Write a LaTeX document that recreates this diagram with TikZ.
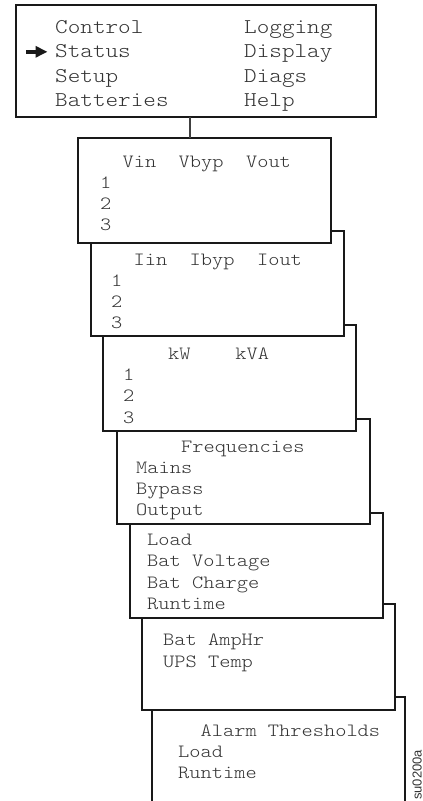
\documentclass[tikz,border=0pt]{standalone}
\usepackage{fontspec}
\setmonofont{Latin Modern Mono Light}[FakeStretch=1.143]
\setsansfont{Liberation Sans}
\usetikzlibrary{arrows.meta}
\begin{document}
\begin{tikzpicture}[x=1pt,y=-1pt,
  panel/.style={draw=black!90,fill=white,line width=2.6pt,anchor=north west,outer sep=0pt,inner sep=0pt,minimum width=253pt,minimum height=105pt},
  big/.style={font=\fontsize{21}{24}\selectfont\ttfamily,text=black!80,anchor=base west,inner sep=0pt},
  txt/.style={font=\fontsize{18.7}{21}\selectfont\ttfamily,text=black!80,anchor=base west,inner sep=0pt},
  link/.style={draw=black!75,line width=1.6pt},
  pointer/.style={-{Triangle[length=12pt,width=11pt]},line width=4.5pt,black!90}]
\useasboundingbox (0,0) rectangle (423,801);
\node[panel,minimum height=120pt] (b7) at (152,697) {};
\node[panel,minimum height=106pt] (b6) at (142,604) {};
\node[panel] (b5) at (130,513) {};
\node[panel] (b4) at (117,419) {};
\node[panel,minimum height=106pt] (b3) at (103,325) {};
\node[panel] (b2) at (91,231) {};
\node[panel] (b1) at (78,138) {};
\node[panel,minimum width=360pt,minimum height=112pt] (menu) at (16,5) {};
\coordinate (tap) at (190,0);
\draw[link] (menu.south -| tap) -- (b1.north -| tap);
\foreach \w [count=\i] in {Control,Status,Setup,Batteries}
  \node[big] (m\i) at (55,{8.5+24.5*\i}) {\w};
\foreach \w [count=\i] in {Logging,Display,Diags,Help}
  \node[big] (n\i) at (244,{8.5+24.5*\i}) {\w};
\coordinate (ptr) at (26,51.8);
\draw[pointer,shorten >=7.5pt] (ptr) -- (ptr -| m2.west);
\node[txt] (vhead) at (100,167) {~~Vin~~Vbyp~~Vout};
\foreach \i in {1,2,3}
  \node[txt] (v\i) at (100,{167+21.3*\i}) {\i};
\node[txt] (ihead) at (111,265) {~~Iin~~Ibyp~~Iout};
\foreach \i in {1,2,3}
  \node[txt] (c\i) at (111,{265+21.3*\i}) {\i};
\node[txt] (phead) at (123,359.5) {~~~~kW~~~~kVA};
\foreach \i in {1,2,3}
  \node[txt] (p\i) at (123,{359.5+21.2*\i}) {\i};
\node[txt] (fhead) at (136,452) {~~~~Frequencies};
\foreach \w [count=\i] in {Mains,Bypass,Output}
  \node[txt] (f\i) at (136,{452+21*\i}) {\w};
\foreach \w [count=\i] in {Load,Bat Voltage,Bat Charge,Runtime}
  \node[txt] (l\i) at (147,{523.5+21.5*\i}) {\w};
\node[txt] (a1) at (163,645) {Bat AmpHr};
\node[txt] (a2) at (163,667) {UPS Temp};
\node[txt] (thead) at (178,736) {~~Alarm Thresholds};
\node[txt] (t1) at (178,757) {Load};
\node[txt] (t2) at (178,778) {Runtime};
\node[font=\fontsize{13}{13}\selectfont\sffamily,text=black!80,rotate=90,anchor=base west,inner sep=0pt] (code) at (421.5,800) {su0200a};
\end{tikzpicture}
\end{document}
